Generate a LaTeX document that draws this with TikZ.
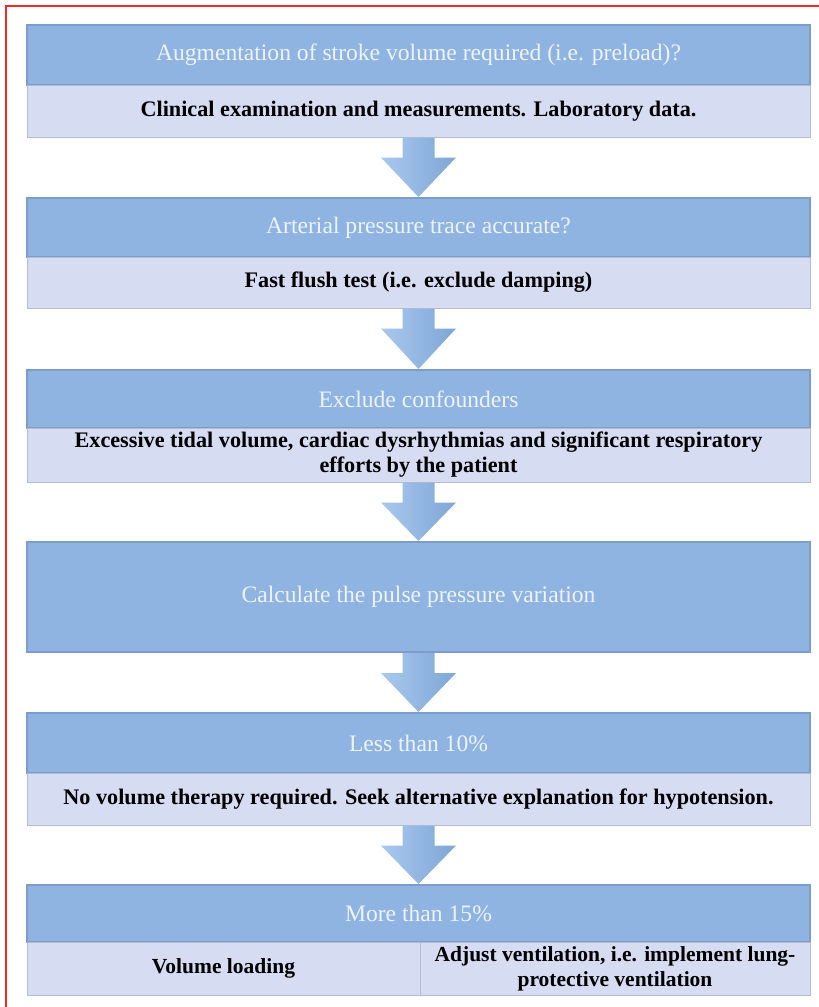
\documentclass[tikz,border=0pt]{standalone}
\usepackage{fontspec}
\setmainfont{Liberation Serif}
\usetikzlibrary{calc}
\definecolor{hdrfill}{HTML}{8FB4E2}
\definecolor{hdredge}{HTML}{7C9DC9}
\definecolor{hdrtext}{HTML}{EEF3FA}
\definecolor{subfill}{HTML}{D6DCF1}
\definecolor{subedge}{HTML}{B6BDD0}
\definecolor{arrL}{HTML}{A9C8EE}
\definecolor{arrR}{HTML}{7EA6D6}
\definecolor{frame}{HTML}{F02828}
\tikzset{
  hdr/.style={rectangle, inner sep=0pt, minimum width=783pt, fill=hdrfill, draw=hdredge, line width=2pt,
     text=hdrtext, font=\fontsize{23.6}{26}\selectfont, align=center},
  sub/.style={rectangle, inner sep=0pt, minimum width=783pt, fill=subfill, draw=subedge, line width=1pt,
     text=black, font=\bfseries\fontsize{22.2}{25}\selectfont, align=center},
  cell/.style={rectangle, inner sep=0pt, fill=subfill, draw=subedge, line width=1pt,
     text=black, font=\bfseries\fontsize{21.5}{25}\selectfont, align=center},
  blockarrow/.style={left color=arrL, right color=arrR, draw=none}
}
\newcommand{\blockarr}[2]{%
  \path[blockarrow] ($(#1.south)+(-16,0)$) -- ($(#1.south)+(16,0)$) -- ($(#1.south)+(16,-20)$)
    -- ($(#1.south)+(37.5,-20)$) -- (#2.north) -- ($(#1.south)+(-37.5,-20)$) -- ($(#1.south)+(-16,-20)$) -- cycle;}
\begin{document}
\begin{tikzpicture}[x=1pt,y=1pt]
\useasboundingbox (0,0) rectangle (819,-1007);
\fill[white] (0,0) rectangle (819,-1007);
\draw[frame, line width=1.5pt] (6,-1007) -- (6,-6) -- (819,-6);

\node[hdr, minimum height=60pt] (h1) at (418.5,-55) {Augmentation of stroke volume required (i.e. preload)?};
\node[sub, minimum height=52pt] (s1) at (418.5,-111) {Clinical examination and measurements. Laboratory data.};

\node[hdr, minimum height=59pt] (h2) at (418.5,-227.5) {Arterial pressure trace accurate?};
\node[sub, minimum height=51pt] (s2) at (418.5,-282.5) {Fast flush test (i.e. exclude damping)};

\node[hdr, minimum height=58pt] (h3) at (418.5,-399) {Exclude confounders};
\node[sub, minimum height=54pt] (s3) at (418.5,-455) {Excessive tidal volume, cardiac dysrhythmias and significant respiratory\\efforts by the patient};

\node[hdr, minimum height=110pt] (h4) at (418.5,-597) {Calculate the pulse pressure variation};

\node[hdr, minimum height=60pt] (h5) at (418.5,-743) {Less than 10\%};
\node[sub, minimum height=52pt] (s5) at (418.5,-799) {No volume therapy required. Seek alternative explanation for hypotension.};

\node[hdr, minimum height=57pt] (h6) at (418.5,-913.5) {More than 15\%};
\node[cell, minimum width=393pt, minimum height=53pt] (c1) at (223.5,-968.5) {Volume loading};
\node[cell, minimum width=390pt, minimum height=53pt] (c2) at (615,-968.5) {Adjust ventilation, i.e. implement lung-\\protective ventilation};

\blockarr{s1}{h2}
\blockarr{s2}{h3}
\blockarr{s3}{h4}
\blockarr{h4}{h5}
\blockarr{s5}{h6}
\end{tikzpicture}
\end{document}
